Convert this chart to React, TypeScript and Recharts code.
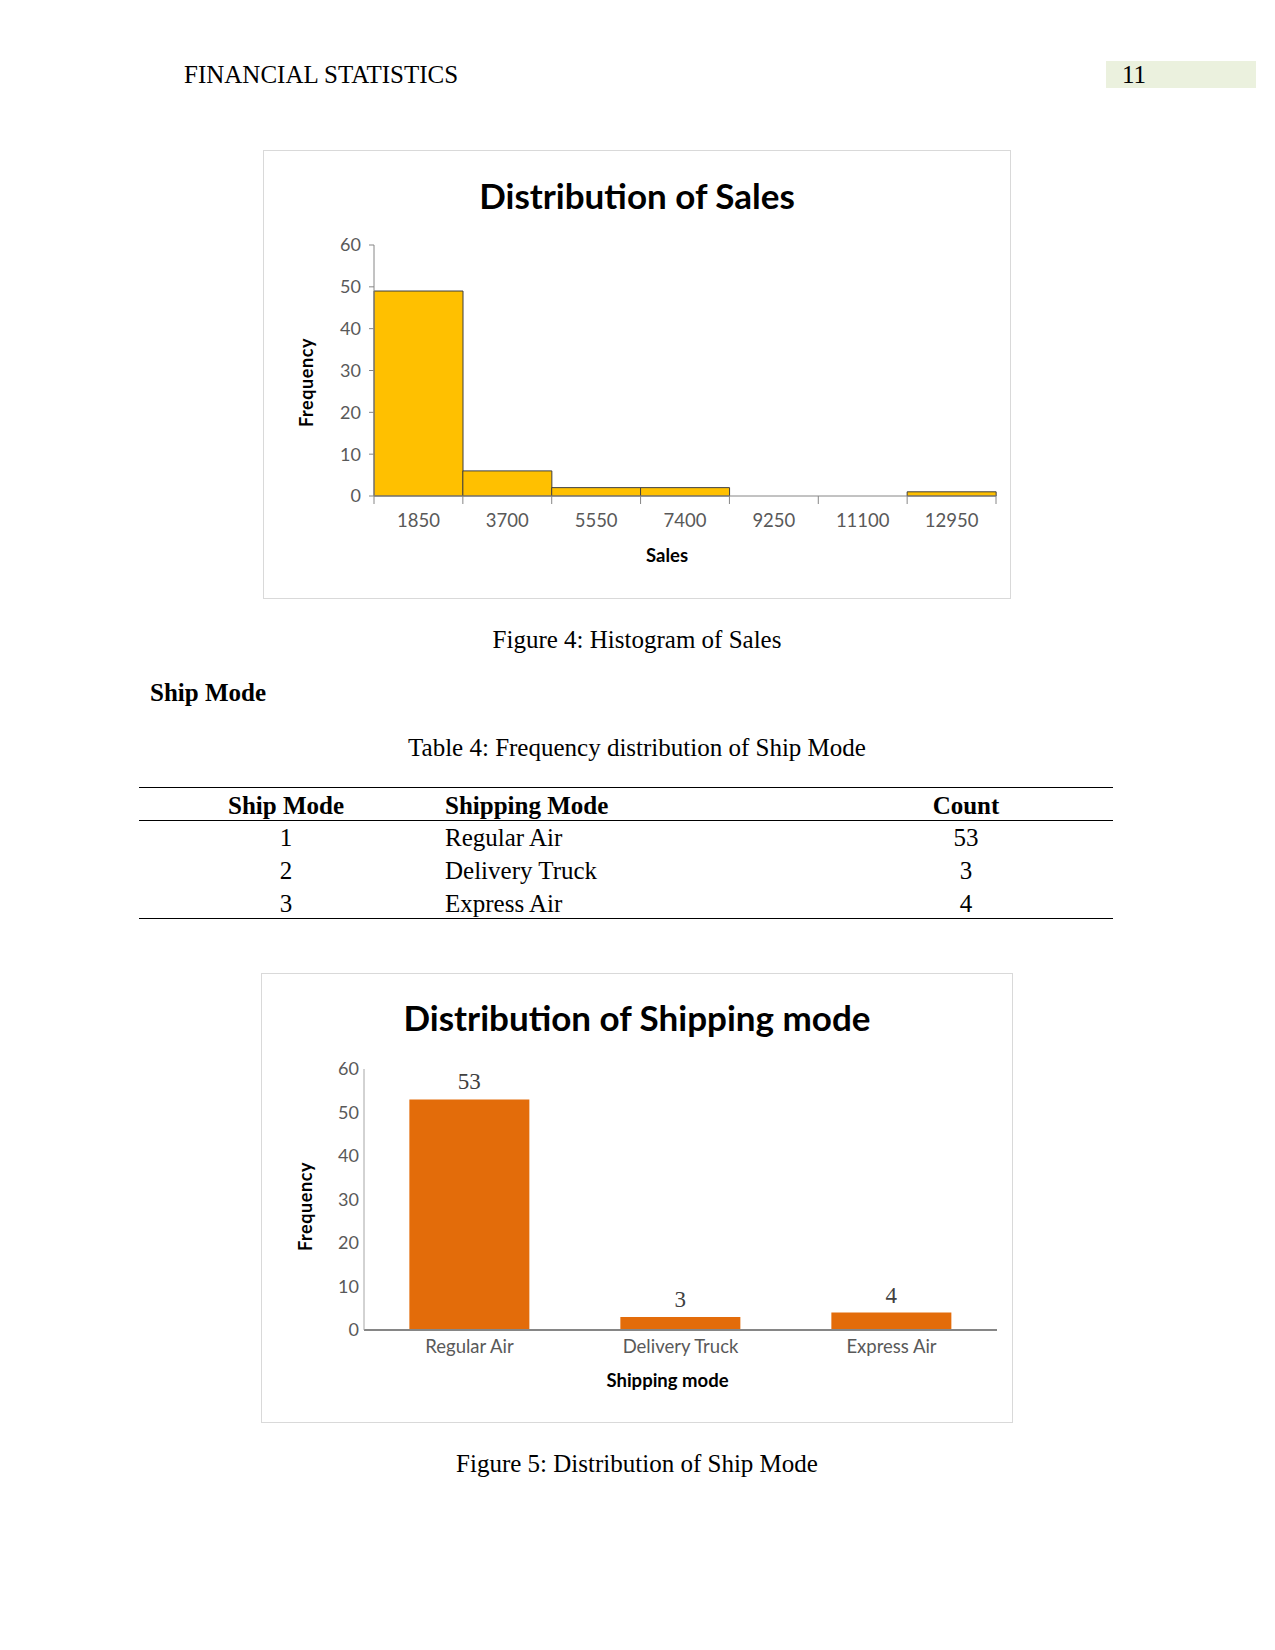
import { BarChart, Bar, XAxis, YAxis, LabelList, Label } from 'recharts'

const salesBins = ['1850', '3700', '5550', '7400', '9250', '11100', '12950']
const salesFreq = [49, 6, 2, 2, 0, 0, 1]
const freqTicks = [0, 10, 20, 30, 40, 50, 60]

const shipModes = ['Regular Air', 'Delivery Truck', 'Express Air']
const shipCounts = [53, 3, 4]
const shipIds = [1, 2, 3]

const salesData = salesBins.map((bin, i) => ({ bin, freq: salesFreq[i] }))
const shipData = shipModes.map((mode, i) => ({ mode, count: shipCounts[i] }))

const SERIF = '"Liberation Serif", "Times New Roman", serif'
const SANS = 'Lato, "Open Sans", sans-serif'
const AXIS_GRAY = '#868686'
const TICK_GRAY = '#595959'

// x tick for the histogram: label in the middle of the bin, tick marks on the bin edges
function BinTick(props: any) {
  const { x, y, payload, width, visibleTicksCount, index } = props
  const band = width / visibleTicksCount
  const axisY = y - 18
  return (
    <g>
      <line x1={x - band / 2} x2={x - band / 2} y1={axisY} y2={axisY + 8} stroke={AXIS_GRAY} />
      {index === visibleTicksCount - 1 && (
        <line x1={x + band / 2} x2={x + band / 2} y1={axisY} y2={axisY + 8} stroke={AXIS_GRAY} />
      )}
      <text x={x} y={y} dy="0.71em" textAnchor="middle" fill={TICK_GRAY} fontSize={18.5} fontFamily={SANS}>
        {payload.value}
      </text>
    </g>
  )
}

function yTitle(dx: number, dy: number) {
  return ({ viewBox }: any) => {
    const cx = viewBox.x + dx
    const cy = viewBox.y + viewBox.height / 2 + dy
    return (
      <text x={cx} y={cy} transform={`rotate(-90, ${cx}, ${cy})`} textAnchor="middle" dominantBaseline="central"
        fontSize={18} fontWeight={700} fontFamily={SANS} fill="#000" letterSpacing={0.6}>
        Frequency
      </text>
    )
  }
}

function xTitle(text: string, dy: number, dx: number) {
  return ({ viewBox }: any) => (
    <text x={viewBox.x + viewBox.width / 2 + dx} y={viewBox.y + dy} textAnchor="middle" dominantBaseline="central"
      fontSize={18.5} fontWeight={700} fontFamily={SANS} fill="#000">
      {text}
    </text>
  )
}

function SalesHistogram() {
  return (
    <BarChart width={746} height={447} data={salesData} barCategoryGap={0}
      margin={{ top: 94, right: 14, bottom: 42, left: 50 }}>
      <XAxis dataKey="bin" height={60} axisLine={{ stroke: AXIS_GRAY }} tickLine={false}
        tickSize={0} tickMargin={18} interval={0} tick={<BinTick />}>
        <Label content={xTitle('Sales', 59, -18)} />
      </XAxis>
      <YAxis width={60} domain={[0, 60]} ticks={freqTicks} interval={0}
        axisLine={{ stroke: AXIS_GRAY }} tickLine={{ stroke: AXIS_GRAY }} tickSize={5} tickMargin={8}
        tick={{ fill: TICK_GRAY, fontSize: 18, fontFamily: SANS }}>
        <Label content={yTitle(-8, 12)} />
      </YAxis>
      <Bar dataKey="freq" fill="#FFC000" stroke="#3f3f3f" strokeWidth={1} isAnimationActive={false} />
    </BarChart>
  )
}

function ShipModeChart() {
  return (
    <BarChart width={750} height={448} data={shipData} barCategoryGap="21.5%"
      margin={{ top: 95, right: 15, bottom: 42, left: 52 }}>
      <XAxis dataKey="mode" height={50} axisLine={{ stroke: AXIS_GRAY, strokeWidth: 2 }} tickLine={false}
        tickSize={0} tickMargin={10} interval={0}
        tick={{ fill: TICK_GRAY, fontSize: 18.5, fontFamily: SANS }}>
        <Label content={xTitle('Shipping mode', 50, -13)} />
      </XAxis>
      <YAxis width={50} domain={[0, 60]} ticks={freqTicks} interval={0}
        axisLine={{ stroke: '#a6a6a6' }} tickLine={false} tickSize={2} tickMargin={3}
        tick={{ fill: TICK_GRAY, fontSize: 18, fontFamily: SANS }}>
        <Label content={yTitle(-9, 7)} />
      </YAxis>
      <Bar dataKey="count" fill="#E36C0A" isAnimationActive={false}>
        <LabelList dataKey="count" position="top" offset={10}
          style={{ fill: '#404040', fontSize: 23, fontFamily: SERIF }} />
      </Bar>
    </BarChart>
  )
}

function Txt({ x, y, children, bold, align = 'left', size = 25 }: any) {
  const w = 800
  const left = align === 'center' ? x - w / 2 : x
  return (
    <div style={{
      position: 'absolute', left, top: y - 20, width: w, height: 40, lineHeight: '40px',
      textAlign: align, fontFamily: SERIF, fontSize: size, fontWeight: bold ? 700 : 400, color: '#000',
      whiteSpace: 'nowrap',
    }}>{children}</div>
  )
}

function Rule({ y, thick = 1 }: { y: number; thick?: number }) {
  return <div style={{ position: 'absolute', left: 139, top: y, width: 974, height: thick, background: '#000' }} />
}

function ChartBox({ left, top, width, height, title, titleY, children }: any) {
  return (
    <div style={{
      position: 'absolute', left, top, width, height, border: '1px solid #d9d9d9', background: '#fff',
    }}>
      <div style={{
        position: 'absolute', left: 0, top: titleY - 25, width: '100%', height: 50, lineHeight: '50px',
        textAlign: 'center', fontFamily: SANS, fontWeight: 700, fontSize: 35, color: '#000',
      }}>{title}</div>
      <div style={{ position: 'absolute', left: 0, top: 0 }}>{children}</div>
    </div>
  )
}

export default function App() {
  const rowYs = [838, 871, 904]
  return (
    <div style={{ position: 'absolute', left: 0, top: 0, width: 1275, height: 1650, background: '#fff' }}>
      <Txt x={184} y={75}>FINANCIAL STATISTICS</Txt>
      <div style={{ position: 'absolute', left: 1106, top: 61, width: 150, height: 27, background: '#EBF1DE' }} />
      <Txt x={1122} y={75}>11</Txt>

      <ChartBox left={263} top={150} width={746} height={447} title="Distribution of Sales" titleY={44}>
        <SalesHistogram />
      </ChartBox>

      <Txt x={637} y={640} align="center">Figure 4: Histogram of Sales</Txt>
      <Txt x={150} y={693} bold>Ship Mode</Txt>
      <Txt x={637} y={748} align="center">Table 4: Frequency distribution of Ship Mode</Txt>

      <Rule y={787} />
      <Txt x={286} y={806} align="center" bold>Ship Mode</Txt>
      <Txt x={445} y={806} bold>Shipping Mode</Txt>
      <Txt x={966} y={806} align="center" bold>Count</Txt>
      <Rule y={820} />
      {shipIds.map((id, i) => (
        <div key={id}>
          <Txt x={286} y={rowYs[i]} align="center">{id}</Txt>
          <Txt x={445} y={rowYs[i]}>{shipModes[i]}</Txt>
          <Txt x={966} y={rowYs[i]} align="center">{shipCounts[i]}</Txt>
        </div>
      ))}
      <Rule y={918} />

      <ChartBox left={261} top={973} width={750} height={448} title="Distribution of Shipping mode" titleY={43}>
        <ShipModeChart />
      </ChartBox>

      <Txt x={637} y={1464} align="center">Figure 5: Distribution of Ship Mode</Txt>
    </div>
  )
}
